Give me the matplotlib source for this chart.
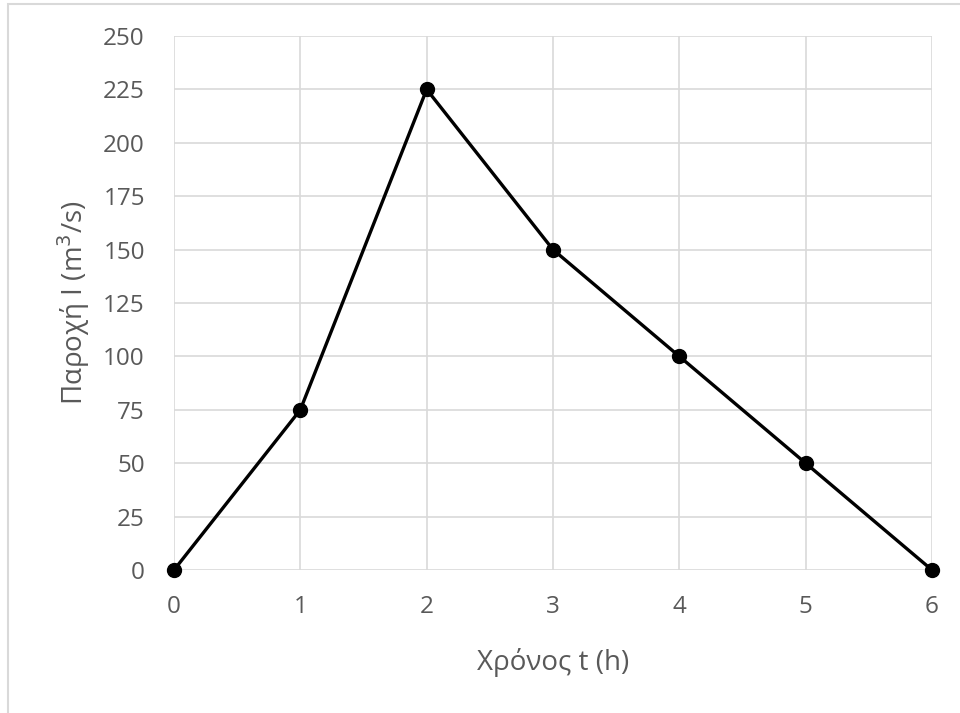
import matplotlib.pyplot as plt
from matplotlib.patches import Rectangle

# hydrograph data
time_h = [0, 1, 2, 3, 4, 5, 6]
flow = [0, 75, 225, 150, 100, 50, 0]
x_ticks = [0, 1, 2, 3, 4, 5, 6]
y_ticks = [0, 25, 50, 75, 100, 125, 150, 175, 200, 225, 250]

plt.rcParams['font.family'] = ['Open Sans', 'DejaVu Sans']
txt_col = '#595959'
grid_col = '#d9d9d9'

fig = plt.figure(figsize=(9.6, 7.13), dpi=100)
ax = fig.add_axes([174/960, 1 - 570/713, (932 - 174)/960, (570 - 36)/713])

# chart frame (cropped at right/bottom)
fig.patches.append(Rectangle((8/960, -0.1), 1.2, 1 - 4/713 + 0.1, transform=fig.transFigure,
                             fill=False, edgecolor='#d9d9d9', linewidth=1.5))

ax.plot(time_h, flow, color='black', linewidth=2.4, marker='o', markersize=10, zorder=3, clip_on=False)

ax.set_xlim(0, 6)
ax.set_ylim(0, 250)
ax.set_xticks(x_ticks)
ax.set_yticks(y_ticks)
ax.grid(True, color=grid_col, linewidth=1.2)
ax.set_axisbelow(True)
for s in ax.spines.values():
    s.set_visible(False)
ax.tick_params(length=0, labelsize=17.5, colors=txt_col)
ax.tick_params(axis='y', pad=21)
ax.tick_params(axis='x', pad=18)

ax.set_xlabel('Χρόνος t (h)', fontsize=20, color=txt_col, labelpad=21)
ax.set_ylabel('Παροχή I (m$^3$/s)', fontsize=20, color=txt_col, labelpad=8)

fig.savefig('out.png', dpi=100)
